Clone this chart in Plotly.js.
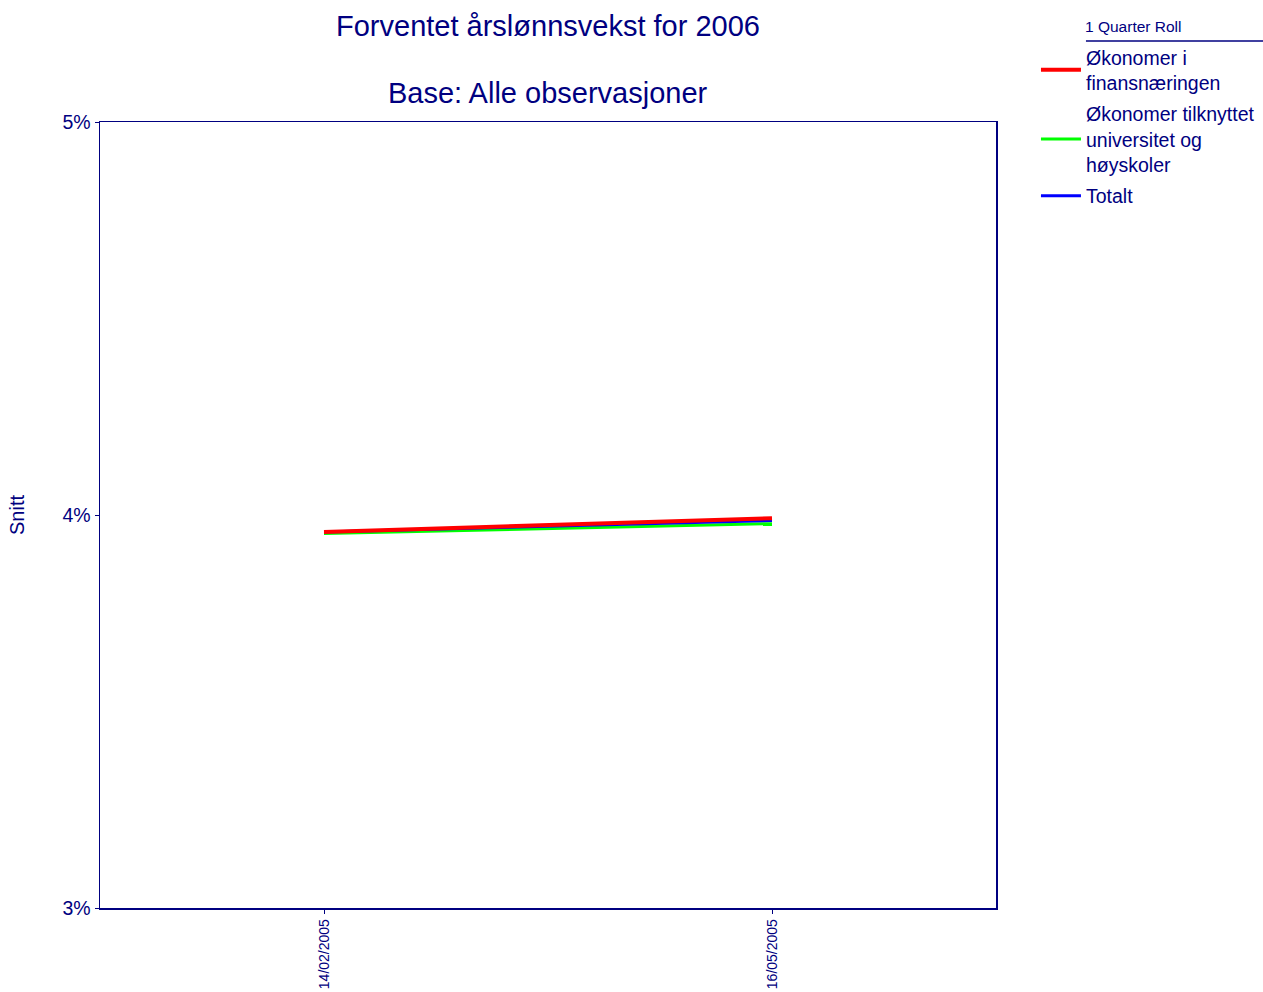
<!DOCTYPE html>
<html>
<head>
<meta charset="utf-8">
<script src="https://cdn.plot.ly/plotly-3.0.1.min.js"></script>
<style>html,body{margin:0;padding:0;background:#fff;}#chart{width:1263px;height:992px;}</style>
</head>
<body>
<div id="chart"></div>
<script>
const dates = ["14/02/2005", "16/05/2005"];
const finans = [3.957, 3.992];
const universitet = [3.953, 3.978];
const totalt = [3.957, 3.986];
const yTicks = [3, 4, 5];
const yTickLabels = ["3%", "4%", "5%"];

const navy = "#000080";
const font = "Liberation Sans, Arial, sans-serif";

const traces = [
  {x: dates, y: universitet, name: "Økonomer tilknyttet<br>universitet og<br>høyskoler", mode: "lines",
   line: {color: "#00ff00", width: 3}, legendrank: 2, legendgroup: "g2"},
  {x: dates, y: totalt, name: "Totalt", mode: "lines",
   line: {color: "#0000ff", width: 3}, legendrank: 3, legendgroup: "g3"},
  {x: dates, y: finans, name: "Økonomer i<br>finansnæringen", mode: "lines",
   line: {color: "#ff0000", width: 4}, legendrank: 1, legendgroup: "g1"}
];

const layout = {
  width: 1263, height: 992,
  margin: {l: 100, r: 267, t: 122, b: 84, autoexpand: false},
  paper_bgcolor: "#fff", plot_bgcolor: "#fff",
  font: {family: font, color: navy, size: 19},
  title: {text: "Forventet årslønnsvekst for 2006",
          font: {family: font, size: 29, color: navy},
          x: 0.5, xref: "paper", xanchor: "center", y: 0.9738, yref: "container", yanchor: "middle"},
  xaxis: {type: "category", range: [-0.5, 1.5], tickangle: -90, automargin: false,
          tickfont: {size: 14, color: navy}, ticks: "outside", ticklen: 4, tickcolor: navy,
          showline: true, linecolor: navy, linewidth: 1.5, mirror: true, showgrid: false, zeroline: false},
  yaxis: {range: [3, 5], tickvals: yTicks, ticktext: yTickLabels, automargin: false,
          tickfont: {size: 19.5, color: navy}, ticks: "outside", ticklen: 4, tickcolor: navy,
          showline: true, linecolor: navy, linewidth: 1.5, mirror: true, showgrid: false, zeroline: false,
          title: {text: "Snitt", font: {size: 20, color: navy}, standoff: 32}},
  showlegend: true,
  legend: {x: 1.0446, xanchor: "left", y: 1.107, yref: "paper", yanchor: "top",
           traceorder: "grouped", tracegroupgap: 3, itemwidth: 40,
           font: {size: 19.5, color: navy, family: font}, bgcolor: "rgba(0,0,0,0)"},
  annotations: [
    {text: "Base: Alle observasjoner", xref: "paper", yref: "paper", x: 0.5, y: 1.0369,
     xanchor: "center", yanchor: "middle", showarrow: false, font: {size: 29, color: navy}},
    {text: "1 Quarter Roll", xref: "paper", yref: "paper", x: 1.0975, y: 1.1221,
     xanchor: "left", yanchor: "middle", showarrow: false, font: {size: 15.5, color: navy}}],
  shapes: [{type: "line", xref: "paper", yref: "paper", x0: 1.1004, x1: 1.298, y0: 1.1031, y1: 1.1031,
            line: {color: navy, width: 1.5}}]
};

Plotly.newPlot("chart", traces, layout, {displayModeBar: false, staticPlot: true});
</script>
</body>
</html>
